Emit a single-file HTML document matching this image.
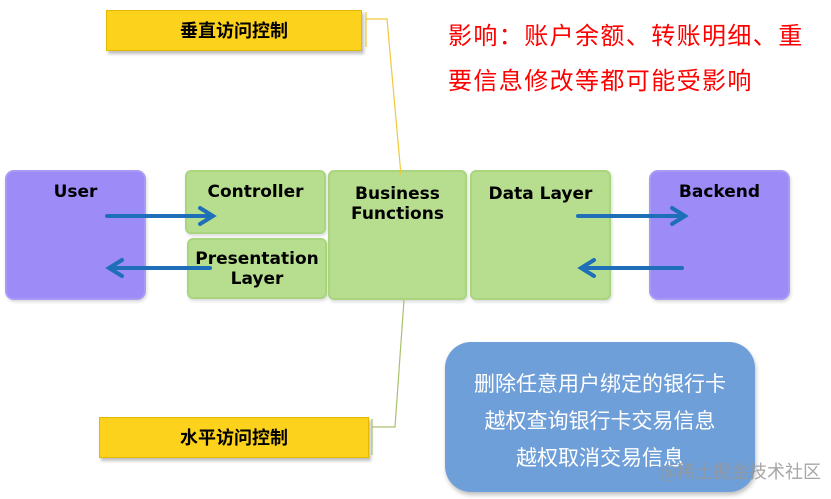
<!DOCTYPE html>
<html><head><meta charset="utf-8"><style>
html,body{margin:0;padding:0;background:#fff;}
body{width:831px;height:499px;position:relative;overflow:hidden;font-family:"Liberation Sans","Noto Sans CJK SC",sans-serif;}
.b{position:absolute;box-sizing:border-box;text-align:center;font-weight:bold;font-size:17px;line-height:20px;color:#000;font-family:"DejaVu Sans","Liberation Sans",sans-serif;}
.p{background:#9d8cf8;border:2px solid #a99af5;border-radius:9px;box-shadow:1px 2px 3px rgba(0,0,0,.15);}
.g{background:#b7de8f;border:2px solid #a9d57f;border-radius:6px;box-shadow:1px 2px 3px rgba(0,0,0,.15);}
.y{position:absolute;background:#fcd21c;border:1px solid #e2b900;box-shadow:2px 3px 3px rgba(0,0,0,.25);font-weight:bold;font-size:18px;text-align:center;font-family:"Noto Sans CJK SC",sans-serif;}
.r{position:absolute;left:448px;color:#f00;font-size:24px;letter-spacing:1.4px;font-family:"Noto Sans CJK SC",sans-serif;white-space:nowrap;}
</style></head><body>
<div class="y" style="left:106px;top:10px;width:254px;height:39px;line-height:39px;">垂直访问控制</div>
<div class="y" style="left:99px;top:417px;width:268px;height:39px;line-height:39px;">水平访问控制</div>
<div class="r" style="top:16px;">影响：账户余额、转账明细、重</div>
<div class="r" style="top:61px;">要信息修改等都可能受影响</div>

<div class="b p" style="left:5px;top:170px;width:141px;height:130px;padding-top:10px;">User</div>
<div class="b g" style="left:185px;top:170px;width:141px;height:64px;padding-top:10px;">Controller</div>
<div class="b g" style="left:187px;top:238px;width:140px;height:61px;padding-top:9px;">Presentation<br>Layer</div>
<div class="b g" style="left:328px;top:170px;width:139px;height:130px;padding-top:12px;">Business<br>Functions</div>
<div class="b g" style="left:470px;top:170px;width:141px;height:130px;padding-top:12px;">Data Layer</div>
<div class="b p" style="left:649px;top:170px;width:141px;height:130px;padding-top:10px;">Backend</div>

<svg width="831" height="499" style="position:absolute;left:0;top:0" viewBox="0 0 831 499">
<g fill="none" stroke="#f0c83a" stroke-width="1.2">
<polyline points="366,12 366,47"/>
<polyline points="366,19 387,19 401,175"/>
</g>
<g fill="none" stroke="#a9c070" stroke-width="1.2">
<polyline points="372,419 372,455"/>
<polyline points="372,427 395,427 404,300"/>
</g>
<g fill="none" stroke="#1f6fb8" stroke-width="4" stroke-linecap="round">
<line x1="107" y1="216" x2="212" y2="216"/><polyline points="200,208 213,216 200,224"/>
<line x1="210" y1="268" x2="110" y2="268"/><polyline points="122,260 109,268 122,276"/>
<line x1="578" y1="216" x2="684" y2="216"/><polyline points="672,208 685,216 672,224"/>
<line x1="682" y1="268" x2="582" y2="268"/><polyline points="594,260 581,268 594,276"/>
</g>
</svg>

<div style="position:absolute;left:445px;top:342px;width:310px;height:150px;background:#6f9fd9;border-radius:26px;box-shadow:1px 3px 4px rgba(0,0,0,.25);"></div>
<div style="position:absolute;left:445px;top:365px;width:310px;text-align:center;color:#fff;font-size:21px;line-height:37px;font-family:'Noto Sans CJK SC',sans-serif;">删除任意用户绑定的银行卡<br>越权查询银行卡交易信息<br>越权取消交易信息</div>
<div style="position:absolute;left:660px;top:458px;color:rgba(150,150,150,.85);font-size:18px;font-family:'Noto Sans CJK SC',sans-serif;white-space:nowrap;">@稀土掘金技术社区</div>
</body></html>
